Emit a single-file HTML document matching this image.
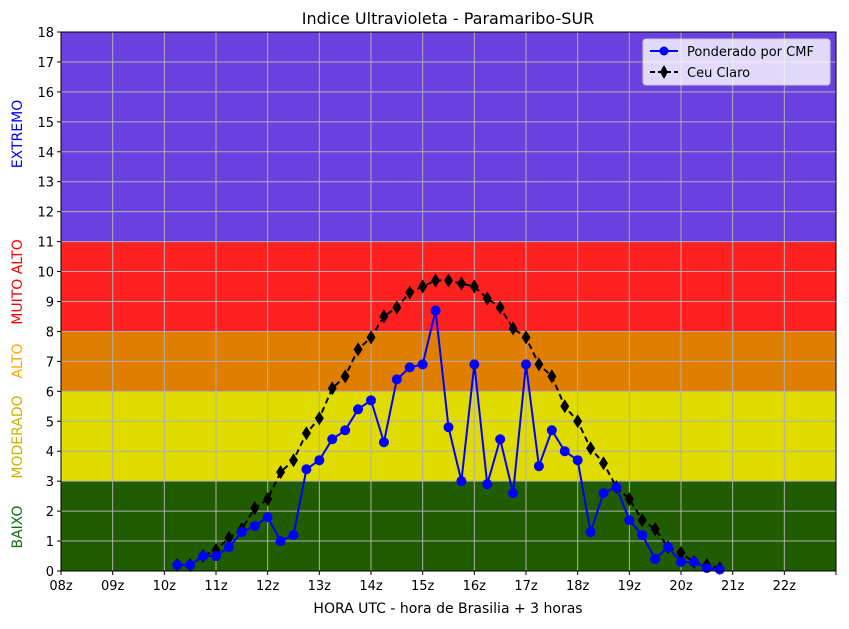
<!DOCTYPE html>
<html><head><meta charset="utf-8">
<style>
body{margin:0;background:#fff;font-family:"DejaVu Sans","Liberation Sans",sans-serif;}
svg text{font-family:"DejaVu Sans","Liberation Sans",sans-serif;}
</style></head>
<body>
<svg id="chart" width="849" height="625" xmlns="http://www.w3.org/2000/svg">
<text x="448" y="24" font-size="16" text-anchor="middle">Indice Ultravioleta - Paramaribo-SUR</text>
<text x="448" y="613" font-size="14" text-anchor="middle">HORA UTC - hora de Brasilia + 3 horas</text>
<g id="bands"></g><g id="grid"></g><g id="series"></g><g id="axes"></g>
<text transform="translate(22,134) rotate(-90)" font-size="14" fill="#0000ff" text-anchor="middle">EXTREMO</text>
<text transform="translate(22,282) rotate(-90)" font-size="14" fill="#ff0000" text-anchor="middle">MUITO ALTO</text>
<text transform="translate(22,361) rotate(-90)" font-size="14" fill="#ffa500" text-anchor="middle">ALTO</text>
<text transform="translate(22,437) rotate(-90)" font-size="14" fill="#c8b400" text-anchor="middle">MODERADO</text>
<text transform="translate(22,527) rotate(-90)" font-size="14" fill="#107010" text-anchor="middle">BAIXO</text>
<g>
<rect x="643" y="39" width="187" height="46" rx="3" fill="#ffffff" fill-opacity="0.8" stroke="#cccccc"/>
<line x1="650" y1="51" x2="678" y2="51" stroke="#0000ff" stroke-width="2"/>
<circle cx="664" cy="51" r="4.5" fill="#0000ff"/>
<text x="687" y="56" font-size="13">Ponderado por CMF</text>
<line x1="650" y1="72" x2="678" y2="72" stroke="#000" stroke-width="2" stroke-dasharray="5,3"/>
<polygon points="664,65 668,72 664,79 660,72" fill="#000"/>
<text x="687" y="77" font-size="13">Ceu Claro</text>
</g>
</svg>
<script>
const times=[10.25,10.5,10.75,11,11.25,11.5,11.75,12,12.25,12.5,12.75,13,13.25,13.5,13.75,14,14.25,14.5,14.75,15,15.25,15.5,15.75,16,16.25,16.5,16.75,17,17.25,17.5,17.75,18,18.25,18.5,18.75,19,19.25,19.5,19.75,20,20.25,20.5,20.75];
const cmfValues=[0.2,0.2,0.5,0.5,0.8,1.3,1.5,1.8,1.0,1.2,3.4,3.7,4.4,4.7,5.4,5.7,4.3,6.4,6.8,6.9,8.7,4.8,3.0,6.9,2.9,4.4,2.6,6.9,3.5,4.7,4.0,3.7,1.3,2.6,2.8,1.7,1.2,0.4,0.8,0.3,0.3,0.1,0.05];
const clearValues=[0.2,0.2,0.5,0.7,1.1,1.4,2.1,2.4,3.3,3.7,4.6,5.1,6.1,6.5,7.4,7.8,8.5,8.8,9.3,9.5,9.7,9.7,9.6,9.5,9.1,8.8,8.1,7.8,6.9,6.5,5.5,5.0,4.1,3.6,2.8,2.4,1.7,1.4,0.8,0.6,0.3,0.2,0.1];
const xTickLabels=["08z","09z","10z","11z","12z","13z","14z","15z","16z","17z","18z","19z","20z","21z","22z",""];
const yTicks=[0,1,2,3,4,5,6,7,8,9,10,11,12,13,14,15,16,17,18];
const bandLimits=[[0,3,"#205c00","band-baixo"],[3,6,"#e0dc00","band-moderado"],[6,8,"#e07e00","band-alto"],[8,11,"#ff2020","band-muito-alto"],[11,18,"#6a40e0","band-extremo"]];
const L=61,R=836,T=32,B=571,X0=8,X1=23,Y1=18;
const NS="http://www.w3.org/2000/svg";
const xs=v=>L+(v-X0)/(X1-X0)*(R-L);
const ys=v=>B-v/Y1*(B-T);
function mk(tag,attrs,parent){const e=document.createElementNS(NS,tag);for(const k in attrs)e.setAttribute(k,attrs[k]);document.getElementById(parent).appendChild(e);return e;}
bandLimits.forEach(b=>{const r=mk("rect",{x:L,y:ys(b[1]),width:R-L,height:ys(b[0])-ys(b[1]),fill:b[2]},"bands");

});
xTickLabels.forEach((lab,i)=>{const x=xs(X0+i);
const g=mk("line",{x1:x,x2:x,y1:T,y2:B,stroke:"#b0b0b0","stroke-width":1},"grid");


const t=mk("line",{x1:x,x2:x,y1:B,y2:B+4,stroke:"#000"},"axes");


const tx=mk("text",{x:x,y:B+19,"font-size":13,"text-anchor":"middle"},"axes");tx.textContent=lab;

});
yTicks.forEach(v=>{const y=ys(v);
const g=mk("line",{x1:L,x2:R,y1:y,y2:y,stroke:"#b0b0b0","stroke-width":1},"grid");


const t=mk("line",{x1:L-4,x2:L,y1:y,y2:y,stroke:"#000"},"axes");


const tx=mk("text",{x:L-7,y:y+5,"font-size":13,"text-anchor":"end"},"axes");tx.textContent=v;

});
const frame=mk("rect",{x:L,y:T,width:R-L,height:B-T,fill:"none",stroke:"#000"},"axes");


const pc=mk("polyline",{points:times.map((t,i)=>xs(t)+","+ys(clearValues[i])).join(" "),fill:"none",stroke:"#000","stroke-width":2,"stroke-dasharray":"6,4"},"series");


times.forEach((t,i)=>{const x=xs(t),y=ys(clearValues[i]);
const d=mk("polygon",{points:`${x},${y-7} ${x+4.5},${y} ${x},${y+7} ${x-4.5},${y}`,fill:"#000"},"series");

});
const pb=mk("polyline",{points:times.map((t,i)=>xs(t)+","+ys(cmfValues[i])).join(" "),fill:"none",stroke:"#0000ff","stroke-width":2},"series");


times.forEach((t,i)=>{const c=mk("circle",{cx:xs(t),cy:ys(cmfValues[i]),r:5,fill:"#0000ff"},"series");

});
</script>
</body></html>
